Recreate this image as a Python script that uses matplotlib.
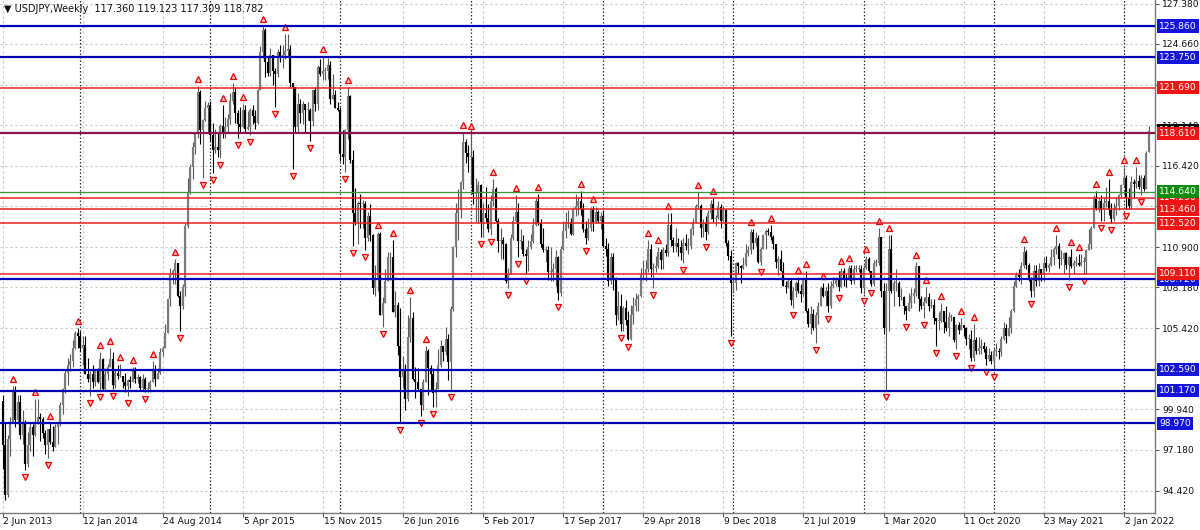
import numpy as np
import pandas as pd
import matplotlib
matplotlib.use("Agg")
import matplotlib.pyplot as plt
from matplotlib.transforms import blended_transform_factory

# ---------------- data (weekly USDJPY) ----------------
symbol_title = "\u25BC USDJPY,Weekly  117.360 119.123 117.309 118.782"
first_open = 100.5
last_open = 117.36
start_date = "2013-06-02"

h2013 = [100.9, 99.0, 98.2, 99.4, 101.5, 101.5, 100.9, 100.9, 99.9, 99.2, 98.4, 99.1, 98.9, 100.6, 100.6, 99.7,
         99.4, 98.5, 98.6, 99.0, 98.8, 98.9, 99.1, 100.4, 101.4, 102.6, 103.4, 103.7, 104.6, 105.2, 105.4]
l2013 = [95.9, 93.8, 94.0, 96.8, 99.0, 98.7, 98.9, 97.9, 97.6, 95.8, 96.0, 97.1, 96.8, 98.1, 98.9, 97.8,
         98.0, 96.9, 96.6, 97.6, 97.1, 97.4, 97.6, 98.8, 99.6, 101.0, 101.6, 102.5, 102.8, 104.0, 104.1]
c2013 = [97.5, 94.1, 97.9, 99.1, 101.2, 99.2, 100.4, 98.2, 98.9, 96.2, 97.5, 98.7, 98.2, 99.1, 99.4, 99.3,
         98.3, 97.5, 98.6, 97.7, 97.4, 98.7, 99.0, 100.2, 101.3, 102.4, 102.9, 103.2, 104.1, 105.1, 104.9]

h2014 = [105.2, 104.9, 104.9, 103.4, 102.5, 102.9, 102.6, 102.7, 103.8, 103.4, 102.7, 103.0, 104.1, 103.8, 102.6,
         102.9, 103.0, 102.2, 102.4, 102.0, 102.2, 102.8, 102.8, 102.3, 102.2, 102.3, 102.1, 101.8, 101.9, 103.2,
         102.9, 102.7, 104.1, 104.2, 105.7, 107.4, 109.5, 109.4, 110.1, 109.8, 107.9, 108.4, 112.5, 115.6, 116.5,
         118.0, 118.6, 121.8, 121.5, 119.6, 120.8, 120.7]
l2014 = [103.9, 102.9, 102.3, 101.8, 100.8, 101.4, 101.5, 101.7, 101.2, 101.2, 101.2, 101.9, 102.8, 101.3, 101.4,
         102.0, 102.1, 101.4, 101.1, 100.8, 101.4, 101.8, 101.7, 101.7, 101.2, 101.2, 101.1, 101.1, 101.1, 101.8,
         101.5, 102.0, 102.3, 103.5, 104.1, 105.1, 106.9, 108.4, 108.4, 107.5, 105.2, 106.7, 107.6, 112.2, 114.5,
         115.5, 117.2, 118.3, 117.9, 115.6, 119.4, 118.7]
c2014 = [104.1, 104.3, 102.3, 102.0, 102.3, 101.8, 102.5, 101.8, 103.3, 101.3, 102.3, 102.8, 103.3, 101.6, 102.4,
         102.2, 102.2, 101.8, 101.5, 101.9, 101.8, 102.5, 102.0, 102.1, 101.4, 102.0, 101.3, 101.3, 101.8, 102.6,
         102.0, 102.4, 103.8, 104.1, 105.1, 107.4, 109.0, 109.3, 109.8, 107.6, 106.9, 108.2, 112.3, 114.6, 116.3,
         117.7, 118.6, 121.4, 118.8, 119.5, 120.3, 120.5]

h2015 = [120.8, 119.3, 118.9, 118.7, 119.2, 120.5, 119.7, 119.9, 121.3, 122.0, 121.7, 120.2, 120.4, 120.6, 120.5,
         120.1, 120.3, 120.5, 120.2, 121.6, 124.5, 125.86, 125.7, 123.8, 124.4, 123.9, 123.0, 124.3, 124.6, 124.6,
         125.3, 125.3, 124.6, 122.0, 121.7, 121.3, 120.9, 120.8, 120.6, 120.7, 120.3, 121.5, 121.7, 123.2, 123.6,
         123.8, 123.1, 123.7, 123.5, 122.6, 121.5, 120.7]
l2015 = [118.1, 115.9, 117.3, 117.0, 116.9, 118.3, 118.3, 118.6, 119.2, 120.6, 119.3, 118.3, 118.7, 119.0, 118.6,
         118.8, 118.5, 119.2, 118.9, 119.2, 121.5, 123.7, 122.4, 122.5, 122.5, 121.9, 120.4, 122.4, 123.4, 123.0,
         123.6, 123.8, 121.7, 116.2, 118.6, 118.6, 119.3, 119.2, 118.7, 119.5, 118.1, 119.1, 120.1, 120.2, 122.5,
         122.2, 122.2, 122.3, 120.6, 120.9, 120.3, 120.1]
c2015 = [118.5, 117.5, 117.7, 117.5, 119.1, 118.7, 119.0, 119.6, 120.8, 121.4, 120.0, 119.2, 119.0, 120.2, 118.9,
         119.0, 120.2, 119.8, 119.3, 121.5, 124.1, 125.6, 123.4, 122.7, 123.9, 122.8, 122.6, 124.1, 123.8, 123.9,
         124.2, 124.3, 122.0, 121.7, 119.0, 120.6, 120.0, 120.6, 120.2, 120.2, 119.4, 121.5, 120.6, 123.1, 122.6,
         122.8, 122.8, 123.2, 120.9, 121.2, 120.3, 120.2]

h2016 = [120.4, 118.8, 118.9, 121.7, 121.2, 117.5, 114.9, 114.0, 114.5, 114.1, 114.0, 113.3, 113.8, 111.8, 109.7,
         111.9, 111.9, 107.5, 109.4, 110.6, 110.6, 111.4, 107.9, 107.2, 106.8, 103.5, 103.0, 106.3, 107.5, 106.5,
         102.8, 102.7, 101.3, 102.0, 104.2, 104.0, 102.9, 102.7, 101.8, 104.0, 104.6, 104.2, 105.5, 105.0, 106.9,
         111.0, 113.9, 114.8, 115.4, 118.7, 118.2, 117.8]
l2016 = [116.7, 116.5, 116.0, 118.2, 116.6, 111.0, 112.4, 111.1, 112.2, 112.2, 110.7, 111.3, 111.3, 107.7, 107.6,
         107.9, 106.3, 105.5, 107.2, 108.6, 108.7, 106.5, 106.2, 103.6, 99.0, 101.4, 99.9, 100.5, 104.5, 101.9,
         100.7, 101.2, 99.5, 99.9, 101.8, 100.9, 101.2, 100.1, 100.1, 101.3, 102.8, 103.2, 103.6, 101.9, 101.2,
         106.6, 110.2, 111.4, 112.9, 114.8, 116.6, 116.0]
c2016 = [117.2, 117.0, 118.8, 121.1, 116.8, 113.2, 112.6, 113.9, 113.8, 113.8, 111.5, 113.0, 111.7, 108.1, 108.8,
         111.8, 106.3, 107.1, 108.6, 110.2, 110.2, 106.5, 107.0, 104.2, 102.1, 102.5, 100.6, 104.8, 106.1, 102.0,
         101.8, 101.3, 100.2, 101.8, 103.9, 102.7, 102.3, 101.0, 101.3, 102.9, 104.2, 103.8, 104.7, 103.1, 106.7,
         110.9, 113.2, 113.5, 115.3, 118.0, 117.3, 117.0]

h2017 = [118.6, 117.5, 115.6, 115.4, 115.2, 113.9, 114.95, 113.8, 114.4, 115.5, 115.0, 112.9, 112.2, 111.6, 111.2,
         109.5, 111.8, 113.0, 114.4, 113.9, 112.1, 111.7, 110.8, 111.4, 111.8, 112.9, 114.2, 114.5, 112.8, 112.2,
         111.0, 111.0, 110.9, 109.8, 110.7, 110.3, 111.0, 112.7, 113.3, 113.4, 112.9, 113.6, 114.5, 114.3, 114.7,
         113.9, 112.7, 112.9, 113.6, 113.7, 113.6, 113.4]
l2017 = [115.1, 113.8, 112.6, 112.5, 111.6, 111.6, 112.6, 111.9, 111.7, 113.7, 112.6, 110.6, 110.1, 110.1, 108.5,
         108.1, 109.1, 111.4, 112.6, 110.2, 110.8, 110.3, 109.1, 109.3, 110.8, 111.2, 112.3, 112.4, 110.9, 110.6,
         109.9, 108.7, 108.6, 108.6, 108.3, 107.3, 107.6, 110.7, 111.5, 112.2, 111.7, 111.7, 113.0, 113.1, 113.1,
         111.9, 111.1, 111.4, 112.0, 112.0, 112.5, 112.5]
c2017 = [117.0, 114.5, 114.6, 115.1, 112.6, 113.2, 112.9, 112.1, 114.0, 114.8, 112.7, 111.3, 111.4, 111.1, 108.6,
         109.1, 111.5, 112.7, 113.3, 111.3, 111.3, 110.4, 110.3, 110.9, 111.3, 112.4, 114.0, 112.5, 111.1, 110.7,
         110.7, 109.2, 109.2, 109.4, 110.2, 107.8, 110.8, 112.0, 112.5, 112.6, 111.8, 113.5, 113.7, 114.0, 113.5,
         112.1, 111.5, 112.2, 113.5, 112.6, 113.3, 112.7]

h2018 = [113.3, 113.4, 111.5, 111.2, 110.5, 110.5, 108.9, 107.9, 107.7, 106.9, 107.3, 106.6, 107.0, 107.5, 107.8,
         107.7, 109.5, 110.0, 110.0, 111.4, 111.1, 109.8, 110.3, 110.9, 110.8, 110.9, 111.1, 113.2, 113.2, 111.6,
         112.2, 111.5, 111.4, 111.5, 111.8, 111.5, 112.2, 112.9, 113.8, 114.6, 113.8, 112.8, 113.0, 113.4, 114.1,
         114.2, 113.1, 114.0, 113.8, 113.7, 113.5, 111.4]
l2018 = [112.1, 110.9, 110.3, 108.3, 108.4, 108.0, 105.6, 106.0, 105.2, 105.2, 105.6, 104.6, 104.6, 105.7, 106.6,
         106.6, 107.5, 108.7, 108.6, 109.2, 108.9, 108.1, 109.2, 109.5, 109.4, 109.4, 110.3, 110.3, 111.0, 110.6,
         110.6, 110.3, 110.0, 109.8, 110.7, 110.4, 110.8, 111.7, 112.5, 113.5, 111.6, 111.6, 111.4, 111.8, 112.8,
         112.6, 112.3, 112.8, 112.2, 112.6, 111.0, 110.0]
c2018 = [113.0, 111.0, 110.8, 108.6, 110.2, 108.8, 106.3, 106.9, 105.7, 106.8, 106.0, 104.7, 106.3, 106.9, 107.4,
         107.6, 109.0, 109.1, 109.4, 110.8, 109.4, 109.5, 109.6, 110.6, 110.0, 110.7, 110.5, 112.4, 111.4, 111.0,
         111.2, 110.9, 110.5, 111.2, 111.0, 111.0, 112.1, 112.6, 113.7, 113.7, 112.2, 112.5, 111.9, 113.2, 113.8,
         112.8, 112.9, 113.6, 112.7, 113.4, 111.2, 110.3]

h2019 = [110.7, 108.9, 109.9, 109.9, 109.7, 110.2, 111.1, 111.0, 112.1, 112.1, 111.9, 111.7, 110.9, 111.8, 112.1,
         112.2, 112.4, 111.7, 111.1, 110.3, 110.7, 109.9, 108.6, 108.8, 108.8, 108.2, 108.6, 108.9, 108.4, 108.8,
         109.3, 106.8, 106.9, 106.7, 106.5, 107.2, 108.3, 108.5, 108.2, 108.5, 108.6, 108.9, 108.9, 109.3, 109.5,
         109.5, 109.1, 109.7, 109.7, 109.7, 109.7, 109.7]
l2019 = [104.9, 107.8, 108.0, 109.1, 108.5, 109.4, 109.6, 110.3, 110.4, 110.8, 111.0, 109.8, 109.7, 110.8, 110.8,
         111.7, 111.4, 110.8, 109.5, 109.0, 109.3, 108.3, 107.8, 108.1, 107.0, 106.8, 107.5, 107.8, 107.2, 107.6,
         106.5, 105.5, 105.0, 105.3, 104.4, 105.7, 106.9, 107.5, 106.9, 106.5, 106.8, 108.1, 108.3, 107.9, 108.2,
         108.3, 108.2, 108.7, 108.4, 108.4, 109.2, 109.2]
c2019 = [108.5, 108.5, 109.8, 109.6, 109.5, 109.7, 110.5, 110.7, 111.9, 111.2, 111.5, 109.9, 110.8, 111.7, 112.0,
         111.9, 111.6, 111.1, 109.9, 110.1, 109.3, 108.3, 108.2, 108.6, 107.3, 107.9, 108.5, 107.9, 107.7, 108.7,
         106.6, 105.7, 106.4, 105.4, 106.3, 106.9, 108.1, 107.6, 107.9, 106.9, 108.3, 108.4, 108.7, 108.2, 109.3,
         108.8, 108.7, 109.5, 108.6, 109.4, 109.4, 109.4]

h2020 = [109.7, 109.7, 110.3, 110.2, 109.3, 110.0, 110.1, 112.2, 111.6, 108.5, 108.5, 111.7, 111.7, 108.7, 109.4,
         108.6, 108.1, 107.6, 106.9, 107.8, 108.1, 108.1, 109.9, 109.6, 107.6, 107.5, 108.2, 107.8, 107.4, 107.4,
         106.1, 106.5, 107.1, 106.6, 106.9, 106.5, 106.4, 106.2, 105.7, 105.8, 106.1, 105.6, 105.5, 105.0, 105.3,
         105.7, 104.8, 104.8, 104.7, 104.5, 104.2, 104.1, 103.9]
l2020 = [107.8, 107.7, 109.4, 109.2, 108.3, 108.3, 109.6, 109.7, 107.5, 105.0, 101.2, 105.2, 107.8, 106.9, 107.9,
         106.9, 107.3, 106.4, 106.0, 106.6, 106.8, 107.1, 107.6, 106.6, 106.7, 106.1, 107.1, 106.6, 106.8, 105.7,
         104.2, 105.3, 105.8, 105.1, 105.2, 104.9, 105.9, 104.5, 104.0, 105.0, 105.3, 104.9, 104.3, 104.0, 103.2,
         103.2, 103.7, 103.7, 103.7, 103.8, 102.9, 103.2, 103.0]
c2020 = [108.1, 109.5, 110.1, 109.3, 108.4, 109.8, 109.8, 111.6, 107.9, 105.4, 107.9, 110.8, 107.9, 108.5, 108.5,
         107.5, 107.5, 106.9, 106.6, 107.1, 107.6, 107.8, 109.6, 107.4, 106.9, 107.2, 107.5, 106.9, 107.0, 106.1,
         105.9, 105.9, 106.6, 105.8, 105.4, 106.2, 106.2, 104.6, 105.6, 105.3, 105.6, 105.4, 104.7, 104.7, 103.4,
         104.6, 103.9, 104.1, 104.2, 104.0, 103.3, 103.6, 103.2]

h2021 = [104.1, 104.4, 104.1, 104.9, 105.8, 105.7, 106.2, 106.7, 108.6, 109.2, 109.4, 109.9, 110.97, 110.7, 109.8,
         108.9, 109.7, 109.7, 109.8, 109.4, 110.2, 110.3, 109.8, 110.8, 110.9, 111.7, 111.2, 110.7, 110.6, 110.6,
         110.3, 110.8, 110.0, 110.3, 110.4, 110.4, 110.2, 110.8, 112.1, 112.3, 114.4, 114.7, 114.3, 114.4, 114.3,
         114.97, 115.5, 113.9, 113.9, 114.3, 114.5, 115.2]
l2021 = [102.6, 103.5, 103.3, 103.5, 104.6, 104.4, 104.9, 105.1, 106.5, 108.2, 108.6, 108.4, 109.5, 109.4, 108.6,
         107.5, 107.5, 108.3, 108.3, 108.6, 108.6, 109.3, 109.2, 109.6, 109.7, 110.4, 109.5, 109.7, 109.1, 109.4,
         108.7, 109.5, 109.1, 109.6, 109.6, 109.6, 109.1, 109.1, 110.7, 110.8, 112.2, 113.4, 113.3, 112.7, 112.7,
         113.6, 113.1, 112.5, 112.7, 113.1, 113.4, 114.3]
c2021 = [103.9, 103.9, 103.8, 104.7, 105.4, 104.9, 105.4, 106.6, 108.3, 109.0, 108.9, 109.6, 110.6, 109.7, 108.8,
         107.9, 109.3, 108.6, 109.4, 109.0, 109.85, 109.5, 109.7, 110.2, 110.8, 111.0, 110.1, 110.1, 110.5, 109.7,
         110.2, 109.6, 109.8, 109.8, 109.7, 109.9, 109.9, 110.7, 111.1, 112.2, 114.2, 113.5, 114.0, 113.4, 113.9,
         114.0, 113.4, 112.8, 113.4, 113.7, 114.4, 115.1]

h2022 = [116.35, 115.8, 114.9, 115.7, 115.5, 116.3, 115.8, 115.8, 115.8, 117.4, 119.123]
l2022 = [115.0, 113.5, 113.5, 113.5, 114.2, 114.9, 114.8, 114.4, 114.7, 114.8, 117.309]
c2022 = [115.6, 114.2, 113.7, 115.3, 115.2, 115.4, 115.0, 115.6, 114.8, 117.3, 118.782]

price_ticks = [127.38, 124.66, 121.90, 119.14, 116.42, 113.66, 110.90, 108.18, 105.42, 102.66, 99.94, 97.18, 94.42]

blue_levels = [125.86, 123.75, 108.72, 102.59, 101.17, 98.97]
red_levels = [121.69, 114.25, 113.46, 112.52, 109.11]
purple_level = 118.61
green_level = 114.64
bid_price = 118.782

# ---------------- assemble ----------------
highs = np.array(h2013 + h2014 + h2015 + h2016 + h2017 + h2018 + h2019 + h2020 + h2021 + h2022)
lows = np.array(l2013 + l2014 + l2015 + l2016 + l2017 + l2018 + l2019 + l2020 + l2021 + l2022)
closes = np.array(c2013 + c2014 + c2015 + c2016 + c2017 + c2018 + c2019 + c2020 + c2021 + c2022)
n = len(closes)
opens = np.concatenate([[first_open], closes[:-1]])
opens[-1] = last_open
highs = np.maximum(highs, np.maximum(opens, closes))
lows = np.minimum(lows, np.minimum(opens, closes))
dates = pd.date_range(start_date, periods=n, freq="7D")
xi = np.arange(n)

W, H = 1200, 530
fig = plt.figure(figsize=(W / 100, H / 100), dpi=100)
ax_left, ax_right, ax_top, ax_bot = 0, 1155, 0, 513
ax = fig.add_axes([ax_left / W, (H - ax_bot) / H, (ax_right - ax_left) / W, (ax_bot - ax_top) / H])
px_per_bar = 2.503
x0_px = 2.5
ax.set_xlim((0 - x0_px) / px_per_bar, (ax_right - x0_px) / px_per_bar)
ppy = 14.78
ytop = 125.86 + 26 / ppy
ax.set_ylim(ytop - ax_bot / ppy, ytop)

# grid
grid_col = "#c8c8c8"
for p in price_ticks:
    ax.axhline(p, color=grid_col, lw=0.8, ls=(0, (2, 2.5)), zorder=0)
label_idx = list(range(0, n, 32))
for i in label_idx:
    ax.axvline(i, color=grid_col, lw=0.8, ls=(0, (2, 2.5)), zorder=0)
years = dates.year
sep_idx = [i for i in range(1, n) if years[i] != years[i - 1]]
for i in sep_idx:
    ax.axvline(i, color="#303030", lw=0.9, ls=(0, (1.2, 1.6)), zorder=0.5)

# candles
up = closes >= opens
wick_col = np.where(up, "#5a5a5a", "#000000")
ax.vlines(xi, lows, highs, colors=list(wick_col), lw=0.8, zorder=2)
body_lo = np.minimum(opens, closes)
body_hi = np.maximum(opens, closes)
body_hi = np.maximum(body_hi, body_lo + 0.06)
ax.vlines(xi[up], body_lo[up], body_hi[up], colors="#7c7c7c", lw=1.55, zorder=3)
ax.vlines(xi[~up], body_lo[~up], body_hi[~up], colors="#000000", lw=1.55, zorder=3)

# fractal arrows
k = 2
up_fr, dn_fr = [], []
for i in range(k, n - k):
    if highs[i] > highs[i - k:i].max() and highs[i] >= highs[i + 1:i + k + 1].max():
        up_fr.append(i)
    if lows[i] < lows[i - k:i].min() and lows[i] <= lows[i + 1:i + k + 1].min():
        dn_fr.append(i)
up_fr = np.array(up_fr)
dn_fr = np.array(dn_fr)
off = 7 / ppy
ax.plot(up_fr, highs[up_fr] + off, ls="none", marker="^", ms=3.8, mfc="#ffc0c0", mec="#f00000", mew=0.9, zorder=4)
ax.plot(dn_fr, lows[dn_fr] - off, ls="none", marker="v", ms=3.8, mfc="#ffc0c0", mec="#f00000", mew=0.9, zorder=4)

# horizontal levels
for p in blue_levels:
    ax.axhline(p, color="#0000b4", lw=1.6, zorder=5)
for p in red_levels:
    ax.axhline(p, color="#e82020", lw=1.1, zorder=5)
ax.axhline(purple_level, color="#8c1450", lw=1.6, zorder=5)
ax.axhline(green_level, color="#3c963c", lw=0.9, zorder=5)

# axes styling
for s in ["top", "left"]:
    ax.spines[s].set_visible(False)
for s in ["right", "bottom"]:
    ax.spines[s].set_color("#7a7a7a")
    ax.spines[s].set_linewidth(1.0)
ax.yaxis.tick_right()
ax.set_yticks(price_ticks)
ax.set_yticklabels([f"{p:.3f}" for p in price_ticks])
ax.tick_params(axis="y", length=3, width=0.8, color="#555555", pad=2, labelsize=6.6, labelcolor="#111111")
ax.set_xticks(label_idx)
ax.set_xticklabels([])
ax.tick_params(axis="x", length=3, width=0.8, color="#555555")
tr = blended_transform_factory(ax.transData, fig.transFigure)
for i in label_idx:
    d = dates[i]
    ax.text(i + 0.3, (H - 521) / H, f"{d.day} {d.strftime('%b %Y')}", transform=tr, fontsize=6.6,
            ha="left", va="center", color="#111111", clip_on=False)

# level labels at right
trl = blended_transform_factory(ax.transAxes, ax.transData)
lab_x = 1.0 + 4 / 1155


def level_label(p, fc, z):
    ax.text(lab_x, p, f"{p:.3f}", transform=trl, fontsize=6.6, color="white", ha="left", va="center",
            bbox=dict(boxstyle="square,pad=0.22", fc=fc, ec="none"), zorder=z, clip_on=False)


level_label(bid_price, "#000000", 10)
for p in blue_levels:
    level_label(p, "#1414dc", 11)
for p in red_levels:
    level_label(p, "#f01414", 12)
level_label(purple_level, "#f01414", 12)
level_label(green_level, "#108c10", 13)

fig.text(4 / W, 1 - 9 / H, symbol_title, fontsize=7, ha="left", va="center", color="#111111")

fig.savefig("out.png", dpi=100, facecolor="white")
